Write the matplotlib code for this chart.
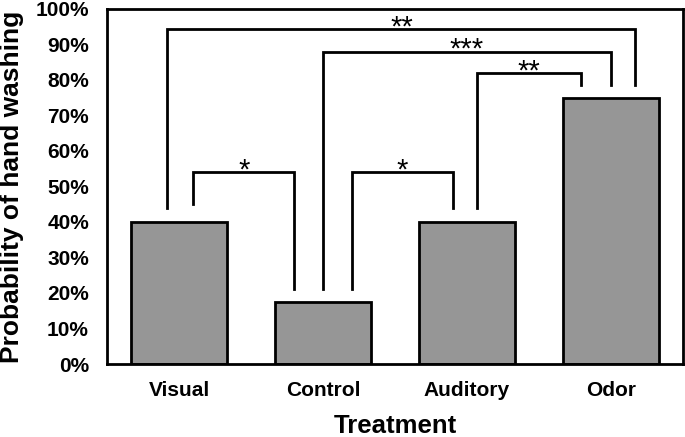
import matplotlib.pyplot as plt
from matplotlib.ticker import PercentFormatter

plt.rcParams["font.family"] = ["Liberation Sans", "DejaVu Sans"]

treatments = ["Visual", "Control", "Auditory", "Odor"]
probability = [40, 17.5, 40, 75]
y_ticks = list(range(0, 101, 10))

# significance brackets: left x, right x, left leg bottom, right leg bottom, top, stars
brackets = [
    (0.10, 0.80, 45, 21, 54, "*"),
    (1.20, 1.90, 21, 44, 54, "*"),
    (2.07, 2.79, 44, 78.5, 82, "**"),
    (1.00, 3.00, 21, 78.5, 88, "***"),
    (-0.08, 3.17, 44, 78.5, 94.3, "**"),
]

fig = plt.figure(figsize=(6.85, 4.37), dpi=100)
ax = fig.add_axes([107 / 685, 1 - 364 / 437, 576 / 685, 355 / 437])

x = range(len(treatments))
ax.bar(x, probability, width=0.667, color="#969696", edgecolor="black",
       linewidth=2, zorder=2)

for x0, x1, b0, b1, top, stars in brackets:
    ax.plot([x0, x0, x1, x1], [b0, top, top, b1], color="black",
            linewidth=2, solid_joinstyle="miter", zorder=3)
    ax.text((x0 + x1) / 2, top - 1.8, stars, ha="center", va="baseline",
            fontsize=21, zorder=3)

ax.set_xlim(-0.5, 3.5)
ax.set_ylim(0, 100)
ax.set_yticks(y_ticks)
ax.yaxis.set_major_formatter(PercentFormatter(decimals=0))
ax.set_xticks(list(x))
ax.set_xticklabels(treatments)
ax.tick_params(axis="both", length=0, labelsize=15)
ax.tick_params(axis="y", pad=13)
ax.tick_params(axis="x", pad=12)
for lbl in ax.get_xticklabels() + ax.get_yticklabels():
    lbl.set_fontweight("bold")

for spine in ax.spines.values():
    spine.set_linewidth(2)
    spine.set_color("black")

ax.set_xlabel("Treatment", fontsize=18.5, fontweight="bold", labelpad=10)
ax.set_ylabel("Probability of hand washing", fontsize=19, fontweight="bold",
              labelpad=8)

fig.savefig("out.png", dpi=100)
